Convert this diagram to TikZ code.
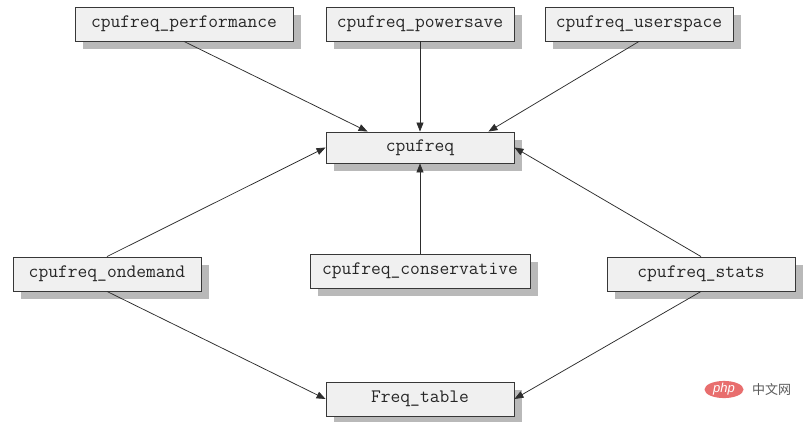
\documentclass[tikz,border=0pt]{standalone}
\usepackage{fontspec}
\newfontfamily\cjkfont{Noto Sans CJK SC}
\newfontfamily\wmfont{Liberation Sans}
\usetikzlibrary{arrows.meta,shadows,calc,shapes.geometric}
\definecolor{boxfill}{RGB}{240,240,240}
\definecolor{boxline}{RGB}{55,55,55}
\definecolor{shadowgray}{RGB}{185,185,185}
\definecolor{linegray}{RGB}{45,45,45}
\definecolor{phpred}{RGB}{232,110,110}
\definecolor{wmgray}{RGB}{90,90,90}
\begin{document}
\begin{tikzpicture}[x=1pt,y=-1pt,
  modbox/.style={draw=boxline, fill=boxfill, line width=0.9pt,
    minimum height=34pt, inner sep=0pt,
    font=\ttfamily\fontsize{19}{22}\selectfont, text=black!85,
    drop shadow={shadow xshift=8pt, shadow yshift=-8pt, fill=shadowgray, opacity=1}},
  link/.style={draw=linegray, line width=0.75pt, -{Triangle[length=9pt,width=7pt]}}]
\useasboundingbox[fill=white] (0,0) rectangle (805,421);

\node[modbox, minimum width=218pt] (perf) at (184,24) {cpufreq\_performance};
\node[modbox, minimum width=188pt] (pow) at (420,24) {cpufreq\_powersave};
\node[modbox, minimum width=188pt] (user) at (639,24) {cpufreq\_userspace};
\node[modbox, minimum width=188pt, minimum height=31pt] (cpu) at (420,147.5) {cpufreq};
\node[modbox, minimum width=188pt] (ond) at (107,274) {cpufreq\_ondemand};
\node[modbox, minimum width=220pt] (cons) at (420,271) {cpufreq\_conservative};
\node[modbox, minimum width=188pt] (stats) at (701,274) {cpufreq\_stats};
\node[modbox, minimum width=188pt] (ft) at (420,399) {Freq\_table};

\coordinate (cpuL) at ($(cpu.north west)+(42,0)$);
\coordinate (cpuR) at ($(cpu.north east)+(-26,0)$);

\draw[link] (perf.south) -- (cpuL);
\draw[link] (pow.south) -- (cpu.north);
\draw[link] (user.south) -- (cpuR);
\draw[link] (ond.north) -- (cpu.west);
\draw[link] (cons.north) -- (cpu.south);
\draw[link] (stats.north) -- (cpu.east);
\draw[link] (ond.south) -- (ft.west);
\draw[link] (stats.south) -- (ft.east);

\node[fill=phpred, ellipse, inner sep=0pt, minimum width=39pt, minimum height=14pt, text=white,
  font=\wmfont\itshape\fontsize{13}{13}\selectfont] (php) at (724,389.5) {php};
\node[anchor=west, text=wmgray, font=\cjkfont\fontsize{13}{13}\selectfont, inner sep=0pt] (cn) at (752,389.5) {中文网};
\end{tikzpicture}
\end{document}
